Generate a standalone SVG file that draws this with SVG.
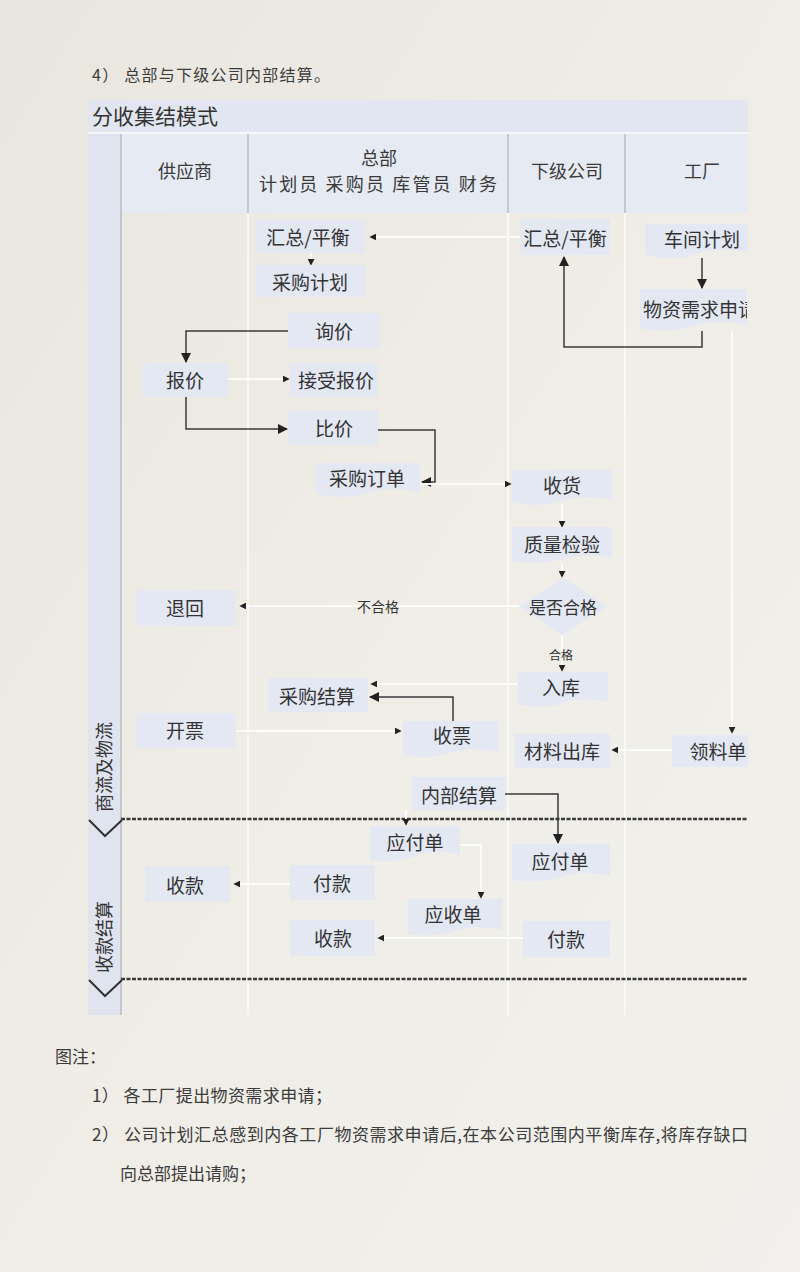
<svg xmlns="http://www.w3.org/2000/svg" width="800" height="1272" viewBox="0 0 800 1272">
<style>
text{font-family:"Noto Sans CJK SC","Noto Sans",sans-serif;fill:#333}
.n{font-size:19px;text-anchor:middle;dominant-baseline:central}
.h{font-size:18px;text-anchor:middle;fill:#3a3a3a}
.p{font-family:"Noto Sans CJK SC",serif;font-size:16px;fill:#3c3c3c}
.box{fill:#e3e8f3}
.dark{fill:none;stroke:#3a3a3a;stroke-width:1.5}
.white{fill:none;stroke:#fbfbf9;stroke-width:2}
.lane{stroke:#f8f8f6;stroke-width:2}
.dash{stroke:#3a3a3a;stroke-width:2.5;stroke-dasharray:4 1.5}
.chev{fill:none;stroke:#333;stroke-width:2}
.small{font-size:14px;text-anchor:middle;dominant-baseline:central}
.vl{font-size:18px;text-anchor:middle;dominant-baseline:central}
</style>
<defs>
<linearGradient id="bg" x1="0" y1="0" x2="1" y2="1">
<stop offset="0" stop-color="#e8e6de"/>
<stop offset="0.5" stop-color="#efede6"/>
<stop offset="1" stop-color="#f1f0ec"/>
</linearGradient>
<marker id="ar" viewBox="0 0 10 10" refX="9" refY="5" markerWidth="7" markerHeight="7" markerUnits="userSpaceOnUse" orient="auto">
<path d="M0,0 L10,5 L0,10 Z" fill="#222"/>
</marker>
<marker id="arb" viewBox="0 0 10 10" refX="9" refY="5" markerWidth="10" markerHeight="10" markerUnits="userSpaceOnUse" orient="auto">
<path d="M0,0 L10,5 L0,10 Z" fill="#222"/>
</marker>
<clipPath id="cl"><rect x="0" y="0" width="747" height="1272"/></clipPath>
</defs>
<rect width="800" height="1272" fill="url(#bg)"/>

<text class="p" x="92" y="81" textLength="238" lengthAdjust="spacing">4） 总部与下级公司内部结算。</text>

<g id="frame">
<rect x="88" y="100" width="660" height="33" fill="#e2e6f0"/>
<text x="92" y="124" style="font-size:21px;fill:#333">分收集结模式</text>
<rect x="88" y="134" width="660" height="79" fill="#e6eaf3"/>
<rect x="88" y="134" width="33" height="881" fill="#dfe4ef"/>
<line x1="121" y1="134" x2="121" y2="1015" stroke="#b9bcc4" stroke-width="1.5"/>
<line x1="248" y1="134" x2="248" y2="213" stroke="#b9bcc4" stroke-width="1.5"/>
<line x1="508" y1="134" x2="508" y2="213" stroke="#b9bcc4" stroke-width="1.5"/>
<line x1="625" y1="134" x2="625" y2="213" stroke="#b9bcc4" stroke-width="1.5"/>
<line x1="88" y1="133" x2="748" y2="133" stroke="#f7f7f7" stroke-width="2"/>
<line x1="248" y1="213" x2="248" y2="1015" class="lane"/>
<line x1="508" y1="213" x2="508" y2="1015" class="lane"/>
<line x1="625" y1="213" x2="625" y2="1015" class="lane"/>
<text class="h" x="185" y="178">供应商</text>
<text class="h" x="379" y="165">总部</text>
<text class="h" x="378" y="191" textLength="238" lengthAdjust="spacing">计划员 采购员 库管员 财务</text>
<text class="h" x="567" y="178">下级公司</text>
<text class="h" x="702" y="178">工厂</text>
<line x1="121" y1="819" x2="748" y2="819" class="dash"/>
<line x1="121" y1="979" x2="748" y2="979" class="dash"/>
<polyline points="89,820 105,836 122,820" class="chev"/>
<polyline points="89,980 105,996 122,980" class="chev"/>
<text class="vl" transform="translate(103,767) rotate(-90)">商流及物流</text>
<text class="vl" transform="translate(103,937) rotate(-90)">收款结算</text>
</g>

<g id="connectors">
<path class="white" d="M520,237 H370" marker-end="url(#ar)"/>
<path class="white" d="M311,253 V265" marker-end="url(#ar)"/>
<path class="dark" d="M288,331 H186 V362" marker-end="url(#arb)"/>
<path class="white" d="M228,379 H289" marker-end="url(#ar)"/>
<path class="dark" d="M186,397 V429 H287" marker-end="url(#arb)"/>
<path class="dark" d="M378,430 H435 V482 H422" marker-end="url(#arb)"/>
<path class="white" d="M420,484 H511" marker-end="url(#ar)"/>
<path class="white" d="M562,504 V527" marker-end="url(#ar)"/>
<path class="white" d="M562,563 V577" marker-end="url(#ar)"/>
<path class="white" d="M519,606 H240" marker-end="url(#ar)"/>
<path class="white" d="M562,635 V671" marker-end="url(#ar)"/>
<path class="dark" d="M702,258 V288" marker-end="url(#arb)"/>
<path class="dark" d="M702,331 V347 H564 V257" marker-end="url(#arb)"/>
<path class="white" d="M732,331 V733" marker-end="url(#ar)"/>
<path class="white" d="M672,750 H612" marker-end="url(#ar)"/>
<path class="white" d="M518,684 H371" marker-end="url(#ar)"/>
<path class="dark" d="M453,721 V697 H370" marker-end="url(#arb)"/>
<path class="white" d="M236,731 H401" marker-end="url(#ar)"/>
<path class="dark" d="M505,794 H558 V843" marker-end="url(#arb)"/>
<path class="white" d="M406,810 V825" marker-end="url(#ar)"/>
<path class="white" d="M460,845 H481 V898" marker-end="url(#ar)"/>
<path class="white" d="M290,884 H234" marker-end="url(#ar)"/>
<path class="white" d="M523,938 H378" marker-end="url(#ar)"/>
</g>

<g id="n-hq-huizong"><rect class="box" x="255" y="220" width="110" height="33"/><text class="n" x="308" y="236">汇总/平衡</text></g>
<g id="n-caigoujihua"><rect class="box" x="256" y="265" width="110" height="32"/><text class="n" x="310" y="281">采购计划</text></g>
<g id="n-xunjia"><rect class="box" x="288" y="313" width="92" height="35"/><text class="n" x="334" y="330">询价</text></g>
<g id="n-baojia"><rect class="box" x="142" y="363" width="86" height="34"/><text class="n" x="185" y="379">报价</text></g>
<g id="n-jieshoubaojia"><rect class="box" x="290" y="363" width="88" height="34"/><text class="n" x="336" y="379">接受报价</text></g>
<g id="n-bijia"><rect class="box" x="288" y="410" width="90" height="35"/><text class="n" x="334" y="427">比价</text></g>
<g id="n-caigoudingdan"><path class="box" d="M316,463 H420 V493 Q394,485 368,493 T316,493 Z"/><text class="n" x="367" y="477">采购订单</text></g>
<g id="n-sub-huizong"><rect class="box" x="520" y="219" width="90" height="36"/><text class="n" x="565" y="237">汇总/平衡</text></g>
<g id="n-chejianjihua"><path class="box" d="M645,224 H748 V252 Q722,246 696,254 T645,254 Z"/><text class="n" x="702" y="238">车间计划</text></g>
<g id="n-wuzi" clip-path="url(#cl)"><path class="box" d="M640,289 H748 V325 Q721,318 694,326 T640,328 Z"/><text x="643" y="308" style="font-size:19px;dominant-baseline:central">物资需求申请</text></g>
<g id="n-shouhuo"><path class="box" d="M512,470 H612 V500 Q587,494 562,501 T512,502 Z"/><text class="n" x="562" y="484">收货</text></g>
<g id="n-zhiliang"><path class="box" d="M512,527 H612 V558 Q587,552 562,559 T512,561 Z"/><text class="n" x="562" y="543">质量检验</text></g>
<g id="n-shifou"><polygon class="box" points="563,578 607,606 563,635 519,606"/><text class="n" x="563" y="606" style="font-size:17px">是否合格</text></g>
<g id="n-tuihui"><rect class="box" x="136" y="590" width="100" height="36"/><text class="n" x="185" y="607">退回</text></g>
<g id="n-ruku"><path class="box" d="M518,672 H608 V702 Q585,696 563,703 T518,704 Z"/><text class="n" x="561" y="686">入库</text></g>
<g id="n-caigoujiesuan"><rect class="box" x="268" y="678" width="100" height="34"/><text class="n" x="317" y="695">采购结算</text></g>
<g id="n-kaipiao"><rect class="box" x="136" y="713" width="100" height="35"/><text class="n" x="185" y="729">开票</text></g>
<g id="n-shoupiao"><path class="box" d="M403,721 H498 V752 Q474,746 450,753 T403,755 Z"/><text class="n" x="452" y="734">收票</text></g>
<g id="n-cailiaochuku"><rect class="box" x="515" y="734" width="95" height="34"/><text class="n" x="562" y="750">材料出库</text></g>
<g id="n-lingliaodan"><rect class="box" x="672" y="735" width="76" height="32"/><text class="n" x="718" y="750">领料单</text></g>
<g id="n-neibujiesuan"><rect class="box" x="412" y="777" width="93" height="33"/><text class="n" x="459" y="794">内部结算</text></g>
<g id="n-hq-yingfu"><path class="box" d="M370,826 H460 V855 Q437,848 415,856 T370,860 Z"/><text class="n" x="415" y="841">应付单</text></g>
<g id="n-sub-yingfu"><path class="box" d="M512,844 H610 V876 Q585,870 561,877 T512,880 Z"/><text class="n" x="560" y="860">应付单</text></g>
<g id="n-sup-shoukuan"><rect class="box" x="145" y="866" width="85" height="36"/><text class="n" x="185" y="884">收款</text></g>
<g id="n-hq-fukuan"><rect class="box" x="290" y="865" width="85" height="35"/><text class="n" x="332" y="882">付款</text></g>
<g id="n-yingshou"><path class="box" d="M408,899 H502 V930 Q478,924 455,931 T408,934 Z"/><text class="n" x="453" y="913">应收单</text></g>
<g id="n-hq-shoukuan"><rect class="box" x="290" y="920" width="85" height="36"/><text class="n" x="333" y="937">收款</text></g>
<g id="n-sub-fukuan"><rect class="box" x="523" y="921" width="87" height="36"/><text class="n" x="566" y="938">付款</text></g>

<g id="labels">
<text class="small" x="378" y="606">不合格</text>
<text class="small" x="561" y="654" style="font-size:12px">合格</text>
</g>

<g id="notes">
<text class="p" x="55" y="1063" style="font-size:17px">图注：</text>
<text class="p" x="92" y="1102" style="font-size:17px" textLength="240" lengthAdjust="spacing">1） 各工厂提出物资需求申请；</text>
<text class="p" x="92" y="1141" style="font-size:17px" textLength="656" lengthAdjust="spacing">2） 公司计划汇总感到内各工厂物资需求申请后,在本公司范围内平衡库存,将库存缺口</text>
<text class="p" x="120" y="1180" style="font-size:17px" textLength="136" lengthAdjust="spacing">向总部提出请购；</text>
</g>
</svg>
